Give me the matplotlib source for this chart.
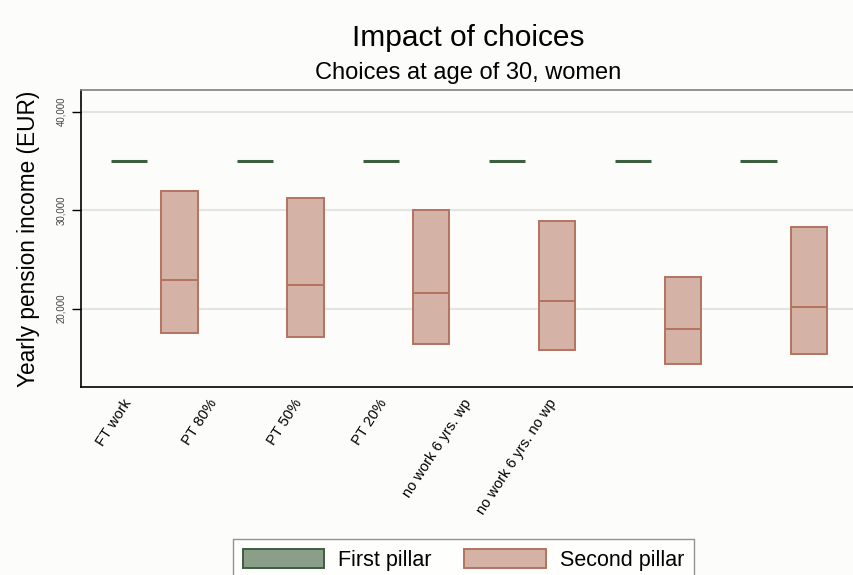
import numpy as np
import matplotlib
matplotlib.use('Agg')
import matplotlib.pyplot as plt
from matplotlib.patches import Patch
import matplotlib.transforms as mtransforms

plt.rcParams['font.family'] = ['Liberation Sans', 'DejaVu Sans']

# 数据
choices = ['FT work', 'PT 80%', 'PT 50%', 'PT 20%', 'no work 6 yrs. wp', 'no work 6 yrs. no wp']
first_pillar = [35000, 35000, 35000, 35000, 35000, 35000]
second_low = [17500, 17100, 16400, 15800, 14350, 15400]
second_mid = [22900, 22400, 21550, 20800, 17950, 20200]
second_high = [31950, 31200, 30050, 28950, 23250, 28300]
y_ticks = [20000, 30000, 40000]

bg = '#fcfcfa'
green_line = '#3d5f3f'
green_face = '#8a9e88'
red_face = '#d4b2a5'
red_edge = '#b5735f'

fig = plt.figure(figsize=(8.54, 5.75), dpi=100, facecolor=bg)
ax = fig.add_axes([81 / 854, 1 - 387 / 575, 1 - 81 / 854, 297 / 575])
ax.set_facecolor(bg)

x = np.arange(len(choices))
w = 0.29

# 第一支柱：横线
ax.hlines(first_pillar, x - 0.2 - w / 2, x - 0.2 + w / 2, color=green_line, linewidth=2.2, zorder=3)

# 第二支柱：区间条 + 中间线
low = np.array(second_low)
high = np.array(second_high)
ax.bar(x + 0.2, high - low, bottom=low, width=w, facecolor=red_face,
       edgecolor=red_edge, linewidth=1.4, zorder=3)
ax.hlines(second_mid, x + 0.2 - w / 2, x + 0.2 + w / 2, color=red_edge, linewidth=1.4, zorder=4)

ax.set_xlim(-0.58, 5.556)
ax.set_ylim(12050, 42200)

# y 轴
ax.set_yticks(y_ticks)
ax.set_yticklabels(['{:,}'.format(v) for v in y_ticks], rotation=90, va='center',
                   fontsize=7, color='#444444')
ax.tick_params(axis='y', length=6.5, width=1, color='black', pad=4)
ax.grid(axis='y', color='#e4e4e2', linewidth=1.5, zorder=0)
ax.set_axisbelow(True)
ax.set_ylabel('Yearly pension income (EUR)', fontsize=16.3)
ax.yaxis.set_label_coords(-0.053, 0.5)

# x 轴标签（斜放）
ax.set_xticks([])
trans = mtransforms.blended_transform_factory(ax.transData, ax.transAxes)
for i, name in enumerate(choices):
    ax.text(-0.202 + 0.675 * i, -0.044, name, transform=trans, rotation=57,
            rotation_mode='anchor', ha='right', va='center', fontsize=10.5)

for s in ['left', 'bottom']:
    ax.spines[s].set_color('black')
    ax.spines[s].set_linewidth(1.2)
ax.spines['top'].set_color('#808080')
ax.spines['top'].set_linewidth(1.2)
ax.spines['right'].set_visible(False)

# 标题
fig.text(468 / 854, 1 - 38 / 575, 'Impact of choices', ha='center', va='center', fontsize=21.5)
fig.text(468 / 854, 1 - 73 / 575, 'Choices at age of 30, women', ha='center', va='center', fontsize=17)

# 图例
handles = [Patch(facecolor=green_face, edgecolor=green_line, linewidth=1.4, label='First pillar'),
           Patch(facecolor=red_face, edgecolor=red_edge, linewidth=1.4, label='Second pillar')]
leg = fig.legend(handles=handles, loc='upper left', bbox_to_anchor=(233 / 854, 1 - 539 / 575),
                 ncol=2, fontsize=15.5, frameon=True, fancybox=False, borderaxespad=0,
                 handlelength=3.8, handleheight=1.0, handletextpad=0.65, columnspacing=1.5,
                 borderpad=0.45)
leg.get_frame().set_edgecolor('#777777')
leg.get_frame().set_facecolor('white')
leg.get_frame().set_linewidth(1.0)

fig.savefig('out.png', dpi=100, facecolor=bg)
